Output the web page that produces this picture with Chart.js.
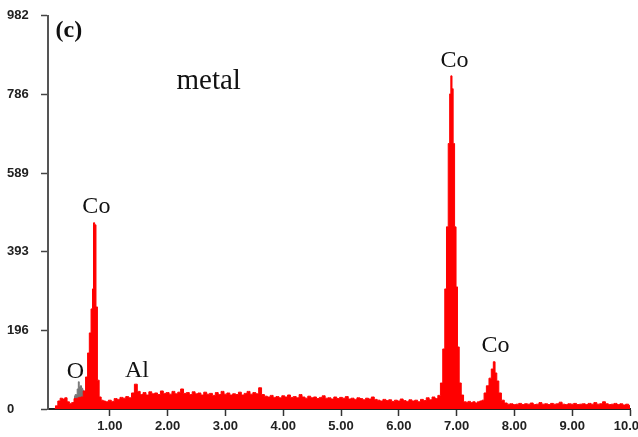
<!DOCTYPE html>
<html>
<head>
<meta charset="utf-8">
<script src="https://cdn.jsdelivr.net/npm/chart.js@4/dist/chart.umd.min.js"></script>
<style>
html,body{margin:0;padding:0;background:#fff;overflow:hidden;width:638px;height:437px;}
canvas{display:block;}
</style>
</head>
<body>
<canvas id="c" width="660" height="437"></canvas>
<script>
// EDS spectrum (energy in keV, counts)
const energy = [
0.04,0.08,0.12,0.16,0.20,0.24,0.28,0.32,0.36,0.40,0.44,0.48,0.52,0.56,0.60,0.63,0.66,0.69,0.71,0.725,0.75,0.77,0.80,0.83,0.87,
0.90,0.95,1.00,1.05,1.10,1.15,1.20,1.25,1.30,1.35,
1.40,1.45,1.50,1.55,1.60,1.65,1.70,1.75,1.80,1.85,
1.90,1.95,2.00,2.05,2.10,2.15,2.20,2.25,2.30,2.35,
2.40,2.45,2.50,2.55,2.60,2.65,2.70,2.75,2.80,2.85,
2.90,2.95,3.00,3.05,3.10,3.15,3.20,3.25,3.30,3.35,
3.40,3.45,3.50,3.55,3.60,3.65,3.70,3.75,3.80,3.85,
3.90,3.95,4.00,4.05,4.10,4.15,4.20,4.25,4.30,4.35,
4.40,4.45,4.50,4.55,4.60,4.65,4.70,4.75,4.80,4.85,
4.90,4.95,5.00,5.05,5.10,5.15,5.20,5.25,5.30,5.35,
5.40,5.45,5.50,5.55,5.60,5.65,5.70,5.75,5.80,5.85,
5.90,5.95,6.00,6.05,6.10,6.15,6.20,6.25,6.30,6.35,
6.40,6.45,6.50,6.55,6.60,6.65,
6.70,6.74,6.78,6.81,6.84,6.87,6.89,6.91,6.93,6.95,6.98,7.00,7.03,7.06,7.10,7.14,
7.18,7.22,7.26,7.30,7.34,7.38,7.42,7.46,7.49,7.54,7.58,7.62,7.65,7.68,7.71,7.75,7.80,7.85,
7.90,7.95,8.00,8.05,8.10,8.15,8.20,8.25,8.30,8.35,
8.40,8.45,8.50,8.55,8.60,8.65,8.70,8.75,8.80,8.85,
8.90,8.95,9.00,9.05,9.10,9.15,9.20,9.25,9.30,9.35,
9.40,9.45,9.50,9.55,9.60,9.65,9.70,9.75,9.80,9.85,
9.90,9.95,10.00
];
const counts = [
0,8,20,27,25,28,18,14,16,26,27,29,30,45,80,140,190,250,300,465,460,255,72,30,22,
20,18,22,19,26,24,29,27,31,28,
40,62,44,36,41,35,43,38,40,36,
45,39,41,37,44,38,42,50,39,41,
36,43,38,40,35,42,37,39,34,41,
36,44,37,40,35,38,36,42,35,39,
44,37,41,38,53,36,32,30,34,29,
31,28,33,30,35,29,31,28,36,30,
27,32,28,30,26,29,33,27,28,25,
30,26,29,27,31,25,27,24,28,26,
23,27,25,30,24,22,20,24,21,23,
19,22,20,25,21,19,23,20,22,18,
24,21,28,23,30,26,
34,65,150,300,455,663,787,832,800,663,455,305,155,65,35,18,
17,19,16,18,15,18,20,22,40,58,77,100,118,90,70,40,22,15,
12,13,11,12,14,11,13,12,15,11,
12,16,12,13,11,14,12,13,17,12,
11,13,12,14,11,12,13,11,14,12,
16,12,13,18,13,11,12,14,11,13,
10,12,9
];
// Oxygen peak region (grey)
const oEnergy = [0.38,0.42,0.45,0.46,0.48,0.50,0.52,0.54,0.56];
const oCounts = [32,36,50,68,55,58,52,47,40];

const yTickValues = [0,196,393,589,786,982];
const yTickLabels = ['0','196','393','589','786','982'];
const xTickValues = [1,2,3,4,5,6,7,8,9,10];
const xTickLabels = ['1.00','2.00','3.00','4.00','5.00','6.00','7.00','8.00','9.00','10.00'];

// annotation texts anchored in data coordinates (keV, counts at baseline)
const peakLabels = ['Co','Co','Co','O','Al'];
const peakLabelX = [0.767,6.963,7.672,0.403,1.468];
const peakLabelY = [489,855,143,77,80];

const textPlugin = {
  id:'texts',
  afterDatasetsDraw(chart){
    const ctx = chart.ctx, xs = chart.scales.x, ys = chart.scales.y;
    ctx.save();
    ctx.fillStyle = '#111';
    ctx.textAlign = 'center';
    ctx.textBaseline = 'alphabetic';
    ctx.font = '24px "Liberation Serif", "Times New Roman", serif';
    peakLabels.forEach((t,i)=>{
      ctx.fillText(t, xs.getPixelForValue(peakLabelX[i]), ys.getPixelForValue(peakLabelY[i]));
    });
    ctx.font = '29px "Liberation Serif", "Times New Roman", serif';
    ctx.fillText('metal', xs.getPixelForValue(2.71), ys.getPixelForValue(798));
    ctx.font = 'bold 24px "Liberation Serif", "Times New Roman", serif';
    ctx.fillText('(c)', xs.getPixelForValue(0.29), ys.getPixelForValue(930));
    ctx.restore();
  }
};

new Chart(document.getElementById('c'), {
  type:'line',
  data:{
    datasets:[
      {
        data: energy.map((e,i)=>({x:e,y:counts[i]})),
        borderColor:'#ff0000',
        backgroundColor:'#ff0000',
        borderWidth:1,
        pointRadius:0,
        fill:'origin',
        stepped:'middle',
        tension:0
      },
      {
        data: oEnergy.map((e,i)=>({x:e,y:oCounts[i]})),
        borderColor:'#777777',
        backgroundColor:'#777777',
        borderWidth:1,
        pointRadius:0,
        fill:'origin',
        stepped:'middle',
        tension:0
      }
    ]
  },
  options:{
    responsive:false,
    animation:false,
    devicePixelRatio:1,
    layout:{padding:{top:15,right:30,left:7,bottom:0}},
    plugins:{legend:{display:false},tooltip:{enabled:false}},
    scales:{
      x:{
        type:'linear',
        min:-0.07, max:10,
        afterBuildTicks(s){ s.ticks = xTickValues.map(v=>({value:v})); },
        afterFit(s){ s.height = 28; },
        ticks:{
          autoSkip:false, maxRotation:0,
          padding:3,
          color:'#222',
          font:{family:'"Liberation Sans", Arial, sans-serif', size:13, weight:'bold'},
          callback:(v,i)=>xTickLabels[i]
        },
        grid:{display:true, drawOnChartArea:false, drawTicks:true, tickLength:7, tickColor:'#333', tickWidth:1.5},
        border:{display:true, color:'#222', width:2}
      },
      y:{
        type:'linear',
        min:0, max:982,
        afterBuildTicks(s){ s.ticks = yTickValues.map(v=>({value:v})); },
        afterFit(s){ s.width = 41; },
        ticks:{
          autoSkip:false,
          crossAlign:'far',
          padding:8,
          color:'#222',
          font:{family:'"Liberation Sans", Arial, sans-serif', size:13, weight:'bold'},
          callback:(v,i)=>yTickLabels[i]
        },
        grid:{display:true, drawOnChartArea:false, drawTicks:true, tickLength:7, tickColor:'#444', tickWidth:1.5},
        border:{display:true, color:'#555', width:2}
      }
    }
  },
  plugins:[textPlugin]
});
</script>
</body>
</html>
